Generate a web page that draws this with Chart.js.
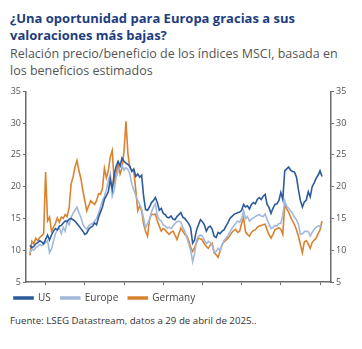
<!DOCTYPE html>
<html>
<head>
<meta charset="utf-8">
<script src="https://cdn.jsdelivr.net/npm/chart.js@4"></script>
<style>
  body { margin: 0; width: 362px; height: 349px; background: #fff; position: relative; overflow: hidden; font-family: "Open Sans", sans-serif; }
  .title { position: absolute; left: 10px; top: 10px; font-size: 13px; font-weight: 700; color: #1d3e7e; line-height: 17px; }
  .sub { position: absolute; left: 10px; top: 45px; font-size: 12.5px; color: #555; line-height: 17px; }
  #wrap { position: absolute; left: 0; top: 84px; width: 362px; height: 229px; }
  .src { position: absolute; left: 10px; top: 314px; font-size: 9.7px; color: #333; }
</style>
</head>
<body>
<div class="title">¿Una oportunidad para Europa gracias a sus<br>valoraciones más bajas?</div>
<div class="sub">Relación precio/beneficio de los índices MSCI, basada en<br>los beneficios estimados</div>
<div id="wrap"><canvas id="pe" width="362" height="229"></canvas></div>
<div class="src">Fuente: LSEG Datastream, datos a 29 de abril de 2025..</div>
<script>
// quarterly readings, first one at the start of 1988
const firstYear = 1988;
const stepYears = 0.25;

const usPE = [
  10.8, 10.4, 10.6, 11.0,  11.2, 11.5, 11.3, 11.0,  11.7, 12.4, 11.6, 12.4,
  13.0, 13.4, 13.2, 13.8,  13.9, 14.3, 14.6, 14.5,  14.9, 15.0, 14.8, 14.6,
  14.2, 13.8, 13.4, 13.0,  12.5, 12.7, 13.3, 13.6,  13.8, 14.3, 14.0, 15.2,
  16.0, 16.8, 18.0, 18.6,  19.2, 21.2, 19.6, 22.0,  23.2, 24.0, 23.3, 24.5,
  24.0, 23.7, 23.5, 23.2,  22.4, 22.8, 21.6, 22.0,  21.5, 21.8, 18.5, 16.4,
  16.3, 16.8, 17.5, 17.8,  18.3, 17.5, 16.3, 16.6,  15.8, 15.6, 15.2, 15.1,
  15.4, 14.9, 14.8, 15.3,  15.6, 15.9, 15.2, 15.0,  14.6, 14.2, 13.5, 11.1,
  11.6, 13.2, 14.0, 14.8,  14.5, 14.0, 13.0, 13.6,  13.8, 13.3, 12.2, 12.0,
  12.8, 12.6, 13.0, 13.2,  13.8, 14.3, 15.0, 15.3,  15.6, 15.8, 15.9, 16.0,
  16.3, 17.2, 16.8, 17.0,  16.5, 17.2, 17.5, 17.3,  18.0, 18.3, 18.0, 18.5,
  18.8, 17.2, 16.7, 15.8,  16.6, 17.2, 17.3, 17.8,  19.1, 18.0, 22.5, 22.8,
  23.1, 22.6, 22.4, 22.3,  21.5, 19.5, 17.8, 16.8,  17.6, 17.9, 19.2, 18.4,
  20.0, 20.6, 21.3, 21.8,  22.5, 21.6
];

const europePE = [
   9.6, 10.2, 10.0, 10.4,  10.6, 10.9, 10.7, 11.0,  11.2, 11.5,  9.6, 10.2,
  11.4, 12.6, 13.2, 13.5,  12.6, 13.6, 13.0, 14.6,  14.0, 15.2, 15.8, 16.3,
  16.8, 15.9, 15.2, 14.1,  13.6, 13.3, 13.8, 14.1,  14.2, 14.6, 15.0, 15.8,
  16.8, 17.8, 18.5, 19.5,  21.0, 22.0, 18.5, 19.5,  21.5, 22.5, 23.2, 23.4,
  22.6, 23.0, 22.7, 22.0,  20.4, 19.5, 18.6, 17.8,  17.2, 16.5, 15.0, 13.5,
  14.2, 14.8, 16.0, 16.8,  17.3, 15.5, 14.8, 14.6,  14.0, 13.8, 13.5, 13.6,
  13.4, 13.8, 14.2, 14.5,  14.6, 14.4, 13.6, 13.0,  12.0, 11.0, 10.0,  8.2,
   9.5, 11.5, 12.2, 12.4,  12.2, 11.6, 11.0, 11.4,  11.2, 10.8,  9.6,  9.8,
  10.3, 10.0, 10.8, 11.5,  11.9, 12.3, 12.9, 13.4,  13.8, 14.2, 14.6, 14.4,
  15.0, 16.2, 15.0, 15.3,  14.6, 14.9, 15.1, 15.3,  15.5, 15.6, 15.4, 15.3,
  15.7, 14.8, 14.1, 13.4,  13.6, 13.9, 13.8, 14.2,  14.2, 15.5, 17.8, 16.9,
  16.6, 16.2, 15.8, 15.2,  14.8, 14.1, 12.5, 12.6,  12.9, 13.0, 12.9, 12.2,
  12.8, 13.3, 13.6, 13.8,  13.8, 13.6
];

const germanyPE = [
   9.2, 11.4, 11.0, 11.9,  11.5, 12.0, 12.3, 12.6,  22.3, 14.6, 15.2, 13.0,
  13.6, 14.2, 15.1, 14.4,  15.2, 15.0, 15.6, 15.3,  16.7, 20.4, 21.5, 23.1,
  24.1, 22.5, 21.3, 19.4,  17.8, 16.2, 17.0, 17.8,  17.5, 17.2, 17.8, 18.9,
  18.8, 19.7, 22.9, 21.4,  22.5, 24.7, 25.7, 20.7,  22.1, 23.5, 22.0, 23.0,
  25.5, 30.3, 25.2, 23.0,  22.6, 22.4, 19.5, 16.2,  17.0, 16.2, 14.1, 13.0,
  12.2, 14.8, 15.7, 15.6,  15.7, 14.6, 13.8, 13.0,  13.4, 13.2, 12.8, 12.5,
  12.8, 13.0, 12.4, 11.7,  12.6, 13.5, 13.0, 12.5,  12.3, 11.5, 10.5,  9.8,
  10.4, 11.2, 11.9, 11.8,  11.6, 11.0, 10.6, 10.3,  10.8, 11.1,  9.6,  9.3,
   8.9,  9.8, 10.9, 11.3,  11.6, 11.9, 12.3, 12.8,  13.1, 13.3, 12.8, 13.0,
  14.2, 15.1, 12.9, 12.5,  12.2, 12.8, 13.1, 13.2,  13.6, 13.8, 13.9, 14.0,
  14.1, 13.2, 12.4, 11.9,  12.5, 13.2, 13.4, 13.5,  13.3, 12.5, 17.2, 16.5,
  16.0, 15.2, 14.6, 14.0,  13.2, 12.2, 10.9,  9.6,  11.3, 11.5, 11.0, 10.3,
  11.2, 11.6, 11.9, 12.6,  13.2, 14.6
];

const yearTicks = [1990, 1995, 2000, 2005, 2010, 2015, 2020, 2025];
const peTicks = [5, 10, 15, 20, 25, 30, 35];

const toPoints = vals => vals.map((v, i) => ({ x: firstYear + i * stepYears, y: v }));

Chart.defaults.font.family = '"Open Sans", sans-serif';
Chart.defaults.color = '#555';

const axisColor = '#6b6b6b';
const tickFont = { size: 9 };

function valueAxis(position, width) {
  return {
    type: 'linear',
    position: position,
    min: 5,
    max: 35,
    afterBuildTicks: s => { s.ticks = peTicks.map(v => ({ value: v })); },
    afterFit: s => { s.width = width; },
    grid: { drawOnChartArea: false, tickLength: 3, color: axisColor },
    border: { color: axisColor, width: 1.5 },
    ticks: { font: tickFont, color: '#555', padding: 2 }
  };
}

new Chart(document.getElementById('pe'), {
  type: 'line',
  data: {
    datasets: [
      { label: 'US', data: toPoints(usPE), borderColor: '#2c5a9b', backgroundColor: '#2c5a9b' },
      { label: 'Europe', data: toPoints(europePE), borderColor: '#a2b8db', backgroundColor: '#a2b8db' },
      { label: 'Germany', data: toPoints(germanyPE), borderColor: '#d9822f', backgroundColor: '#d9822f' }
    ]
  },
  options: {
    responsive: false,
    animation: false,
    devicePixelRatio: 1,
    layout: { padding: { left: 4, top: 4, right: 0, bottom: 0 } },
    elements: {
      line: { borderWidth: 1.6, tension: 0 },
      point: { radius: 0 }
    },
    scales: {
      x: {
        type: 'linear',
        min: 1987.5,
        max: 2026.4,
        afterBuildTicks: s => { s.ticks = yearTicks.map(v => ({ value: v })); },
        // labels hang below the axis; keep the legend close underneath
        afterFit: s => { s.height = 1; },
        grid: { drawOnChartArea: false, tickLength: 3, color: axisColor },
        border: { color: axisColor, width: 1.5 },
        ticks: { font: tickFont, color: '#555', padding: 1, maxRotation: 0, callback: v => String(v) }
      },
      y: valueAxis('left', 22),
      y2: valueAxis('right', 31)
    },
    plugins: {
      legend: {
        position: 'bottom',
        align: 'start',
        labels: { boxWidth: 19, boxHeight: 2, padding: 10, font: { size: 10 }, color: '#444' }
      },
      tooltip: { enabled: false }
    }
  }
});
</script>
</body>
</html>
